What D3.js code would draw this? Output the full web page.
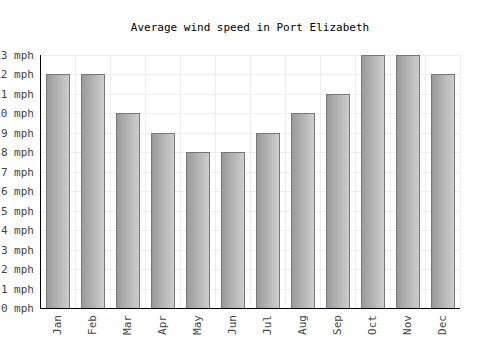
<!DOCTYPE html>
<html>
<head>
<meta charset="utf-8">
<script src="https://cdn.jsdelivr.net/npm/d3@7"></script>
<style>
  body { margin: 0; background: #fff; }
</style>
</head>
<body>
<div id="chart"></div>
<script>
const months = ["Jan", "Feb", "Mar", "Apr", "May", "Jun", "Jul", "Aug", "Sep", "Oct", "Nov", "Dec"];
const windMph = [12, 12, 10, 9, 8, 8, 9, 10, 11, 13, 13, 12];
const yTicks = d3.range(0, 14);

const width = 500, height = 350;
const margin = {top: 55, right: 40, bottom: 42, left: 40};
const innerW = width - margin.left - margin.right;
const innerH = height - margin.top - margin.bottom;
const font = "'DejaVu Sans Mono', 'Liberation Mono', monospace";

const svg = d3.select("#chart").append("svg")
  .attr("width", width).attr("height", height)
  .style("font-family", font);

const defs = svg.append("defs");
const grad = defs.append("linearGradient").attr("id", "barGrad")
  .attr("x1", "0%").attr("x2", "100%").attr("y1", "0%").attr("y2", "0%");
grad.append("stop").attr("offset", "0%").attr("stop-color", "#999");
grad.append("stop").attr("offset", "100%").attr("stop-color", "#cfcfcf");

svg.append("text")
  .attr("x", width / 2).attr("y", 31)
  .attr("text-anchor", "middle").attr("font-size", 11).attr("fill", "#000")
  .text("Average wind speed in Port Elizabeth");

const x = d3.scaleBand().domain(months).range([0, innerW]).paddingInner(0.34).paddingOuter(0.17);
const y = d3.scaleLinear().domain([0, 13]).range([innerH, 0]);

const g = svg.append("g").attr("transform", `translate(${margin.left},${margin.top})`);

// grid
const step = innerW / months.length;
g.append("g").selectAll("line").data(d3.range(1, months.length + 1)).join("line")
  .attr("x1", d => d * step + 0.5).attr("x2", d => d * step + 0.5)
  .attr("y1", 0).attr("y2", innerH)
  .attr("stroke", "#eee");
g.append("g").selectAll("line").data(yTicks.slice(1)).join("line")
  .attr("x1", 0).attr("x2", innerW)
  .attr("y1", d => Math.round(y(d)) + 0.5).attr("y2", d => Math.round(y(d)) + 0.5)
  .attr("stroke", "#eee");

// bars
g.selectAll("rect.bar").data(windMph).join("rect")
  .attr("class", "bar")
  .attr("x", (d, i) => Math.round(x(months[i])) + 0.5)
  .attr("y", d => Math.round(y(d)) + 0.5)
  .attr("width", Math.round(x.bandwidth()))
  .attr("height", d => innerH - Math.round(y(d)))
  .attr("fill", "url(#barGrad)")
  .attr("stroke", "#777").attr("stroke-width", 1);

// axes
const yAxis = g.append("g")
  .call(d3.axisLeft(y).tickValues(yTicks).tickSize(0).tickPadding(6).tickFormat(d => `${d} mph`));
yAxis.select(".domain").remove();
yAxis.selectAll("text").attr("font-size", 11).attr("fill", "#444").attr("font-family", font);

g.append("line").attr("x1", 0.5).attr("x2", 0.5).attr("y1", 0).attr("y2", innerH + 0.5)
  .attr("stroke", "#000");
g.append("line").attr("x1", 0).attr("x2", innerW).attr("y1", innerH + 0.5).attr("y2", innerH + 0.5)
  .attr("stroke", "#000");

const xAxis = g.append("g").attr("transform", `translate(0,${innerH})`)
  .call(d3.axisBottom(x).tickSize(0));
xAxis.select(".domain").remove();
xAxis.selectAll("text")
  .attr("font-size", 11).attr("fill", "#444").attr("font-family", font)
  .attr("transform", "rotate(-90)")
  .attr("text-anchor", "end")
  .attr("x", -7).attr("y", 0).attr("dy", "0.35em");
</script>
</body>
</html>
